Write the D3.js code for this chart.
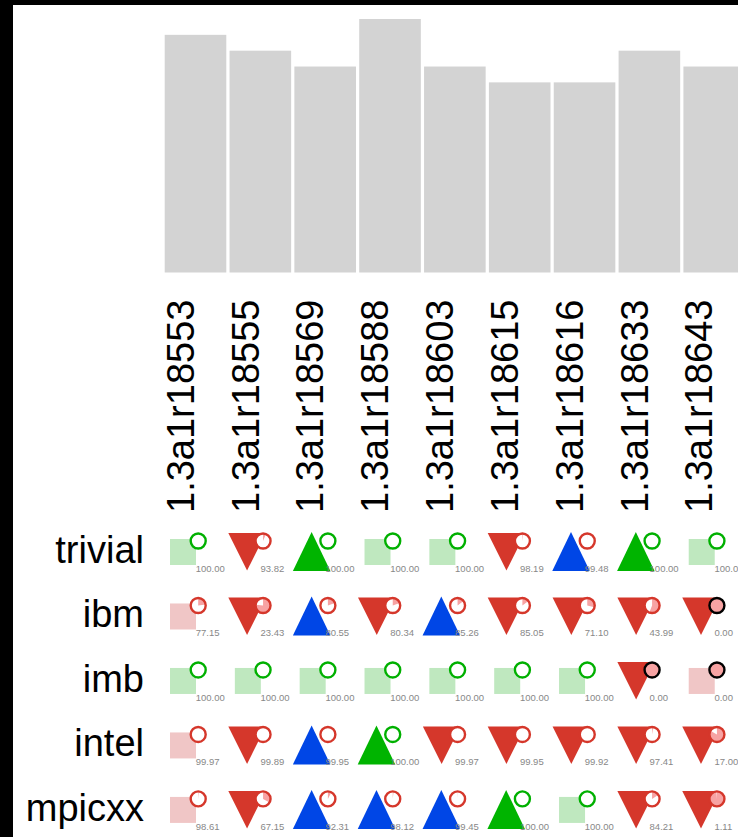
<!DOCTYPE html>
<html>
<head>
<meta charset="utf-8">
<script src="https://cdn.jsdelivr.net/npm/d3@7"></script>
<style>
  body { margin: 0; background: #000; overflow: hidden; }
  svg { display: block; }
  text { font-family: "Liberation Sans", Arial, Helvetica, sans-serif; }
</style>
</head>
<body>
<svg id="chart"></svg>
<script>
// builds along the x axis
const builds = ["1.3a1r18553", "1.3a1r18555", "1.3a1r18569", "1.3a1r18588", "1.3a1r18603",
                "1.3a1r18615", "1.3a1r18616", "1.3a1r18633", "1.3a1r18643"];
// top bar heights
const barCounts = [15, 14, 13, 16, 13, 12, 12, 14, 13];
// test suites (rows)
const suites = ["trivial", "ibm", "imb", "intel", "mpicxx"];
// pass rate (%) per suite, one value per build
const trivialRates = [100.00, 93.82, 100.00, 100.00, 100.00, 98.19, 99.48, 100.00, 100.00];
const ibmRates     = [77.15, 23.43, 80.55, 80.34, 85.26, 85.05, 71.10, 43.99, 0.00];
const imbRates     = [100.00, 100.00, 100.00, 100.00, 100.00, 100.00, 100.00, 0.00, 0.00];
const intelRates   = [99.97, 99.89, 99.95, 100.00, 99.97, 99.95, 99.92, 97.41, 17.00];
const mpicxxRates  = [98.61, 67.15, 92.31, 98.12, 99.45, 100.00, 100.00, 84.21, 1.11];
const rates = [trivialRates, ibmRates, imbRates, intelRates, mpicxxRates];

const W = 738, H = 837;
const step = 64.48;
const left = 164.7;

const svg = d3.select("#chart").attr("width", W).attr("height", H);

// black frame on top/left
svg.append("rect").attr("width", W).attr("height", H).attr("fill", "#000");
svg.append("rect").attr("x", 13).attr("y", 5).attr("width", W).attr("height", H).attr("fill", "#fff");

const x = d3.scaleBand()
    .domain(builds)
    .range([left, left + step * builds.length])
    .paddingInner(0.05)
    .paddingOuter(0)
    .align(0);

const yBar = d3.scaleLinear()
    .domain([0, d3.max(barCounts)])
    .range([272.5, 19]);

const row = d3.scalePoint()
    .domain(suites)
    .range([552, 552 + step * (suites.length - 1)]);

// bars
svg.append("g").selectAll("rect")
    .data(builds)
    .enter().append("rect")
    .attr("x", d => x(d))
    .attr("y", (d, i) => yBar(barCounts[i]))
    .attr("width", x.bandwidth())
    .attr("height", (d, i) => yBar(0) - yBar(barCounts[i]))
    .attr("fill", "#d3d3d3");

// rotated build labels
svg.append("g").selectAll("text")
    .data(builds)
    .enter().append("text")
    .attr("transform", d => `translate(${x(d) + 29},513) rotate(-90)`)
    .attr("font-size", 38)
    .attr("fill", "#000")
    .text(d => d);

// row labels
svg.append("g").selectAll("text")
    .data(suites)
    .enter().append("text")
    .attr("x", 144)
    .attr("y", d => row(d) + 11)
    .attr("text-anchor", "end")
    .attr("font-size", 38)
    .attr("fill", "#000")
    .text(d => d);

// cell data: trend derived from previous build
const cells = [];
suites.forEach((s, r) => {
    rates[r].forEach((v, i) => {
        const prev = i === 0 ? v : rates[r][i - 1];
        const trend = v > prev ? "up" : v < prev ? "down" : "same";
        cells.push({ suite: s, build: builds[i], value: v, trend });
    });
});

const tri = 37.5;  // triangle width/height
const cellG = svg.append("g").selectAll("g")
    .data(cells)
    .enter().append("g")
    .attr("transform", d => `translate(${x(d.build)},${row(d.suite)})`);

cellG.filter(d => d.trend === "same").append("rect")
    .attr("x", 5.3)
    .attr("y", -13)
    .attr("width", 26)
    .attr("height", 26)
    .attr("fill", d => d.value === 100 ? "#bfe8bf" : "#f0c6c6");

cellG.filter(d => d.trend === "down").append("path")
    .attr("d", `M${-1.2},-19 L${-1.2 + tri},-19 L${-1.2 + tri / 2},18.5 Z`)
    .attr("fill", "#d5372b");

cellG.filter(d => d.trend === "up").append("path")
    .attr("d", `M${-1.5 + tri / 2},-20 L${-1.5 + tri},19 L-1.5,19 Z`)
    .attr("fill", d => d.value === 100 ? "#00b400" : "#0046e6");

// pie circles
const pr = 7.5;
const arc = d3.arc().innerRadius(0).outerRadius(pr);
const pies = cellG.append("g").attr("transform", "translate(33.5,-11)");

pies.append("circle")
    .attr("r", pr)
    .attr("fill", "#fff");

pies.filter(d => d.value < 100).append("path")
    .attr("d", d => arc({ startAngle: 0, endAngle: 2 * Math.PI * (100 - d.value) / 100 }))
    .attr("fill", "#f7a3a3");

pies.append("circle")
    .attr("r", pr)
    .attr("fill", "none")
    .attr("stroke-width", 2.4)
    .attr("stroke", d => d.value === 100 ? "#00b000" : d.value === 0 ? "#000" : "#d5372b");

// pass rate text
cellG.append("text")
    .attr("x", 31)
    .attr("y", 20)
    .attr("font-size", 9.5)
    .attr("fill", "#888")
    .text(d => d.value.toFixed(2));
</script>
</body>
</html>
